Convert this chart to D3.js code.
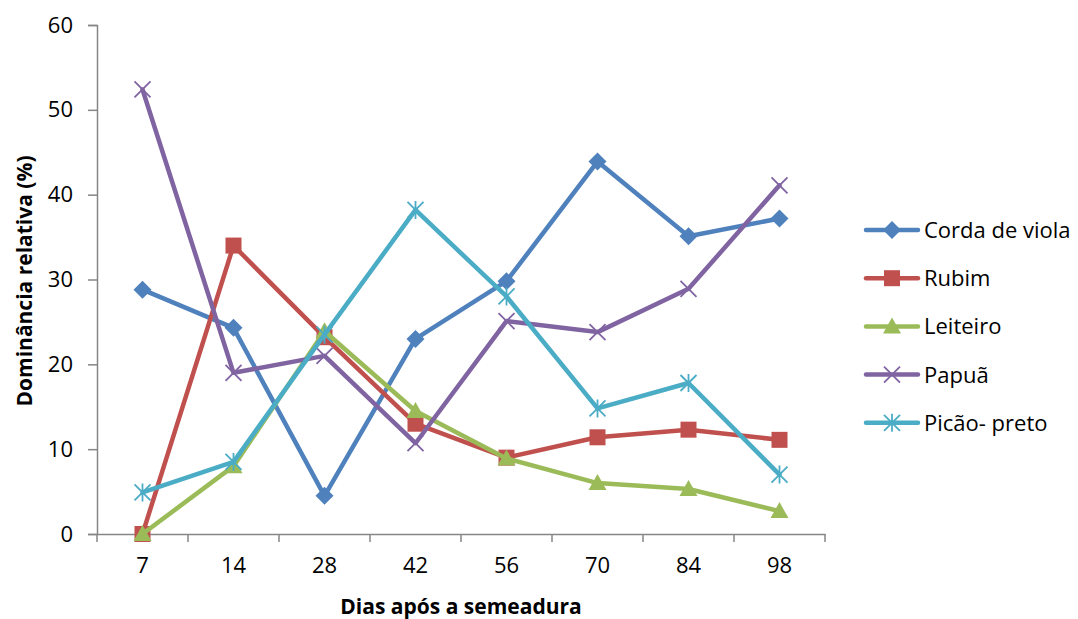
<!DOCTYPE html>
<html><head><meta charset="utf-8">
<script src="https://cdn.jsdelivr.net/npm/d3@7/dist/d3.min.js"></script>
<style>body{margin:0;background:#fff}svg{display:block}text{font-family:"Open Sans","Liberation Sans",sans-serif}</style>
</head><body><svg id="c" width="1078" height="619"></svg>
<script>
const categories = ["7","14","28","42","56","70","84","98"];
const seriesNames = ["Corda de viola","Rubim","Leiteiro","Papuã","Picão- preto"];
const cordaDeViola = [28.8,24.3,4.5,23.0,29.8,43.9,35.1,37.2];
const rubim = [0,34.0,23.2,13.0,9.0,11.4,12.3,11.1];
const leiteiro = [0,8.0,23.9,14.5,8.9,6.0,5.3,2.7];
const papua = [52.4,19.0,21.0,10.7,25.1,23.8,28.9,41.1];
const picaoPreto = [4.9,8.5,23.5,38.2,28.0,14.8,17.8,7.0];
const yTicks = [0,10,20,30,40,50,60];
const colors = ["#4F81BD","#C0504D","#9BBB59","#8064A2","#4BACC6"];
const markers = ["diamond","square","triangle","x","star"];
const values = [cordaDeViola, rubim, leiteiro, papua, picaoPreto];

const svg = d3.select("#c");
const x = d3.scaleBand().domain(categories).range([97,825]);
const y = d3.scaleLinear().domain([0,60]).range([534,25]);
const axisColor = "#868686";
const fs = 22;

// y axis
const ya = svg.append("g").attr("transform","translate(97,0)")
  .call(d3.axisLeft(y).tickValues(yTicks).tickSize(9).tickPadding(15));
ya.select(".domain").attr("stroke",axisColor).attr("stroke-width",1.5);
ya.selectAll(".tick line").attr("stroke",axisColor).attr("stroke-width",1.5);
ya.selectAll(".tick text").attr("font-size",fs).attr("fill","#000");

// x axis
const xa = svg.append("g").attr("transform","translate(0,534)")
  .call(d3.axisBottom(x).tickSize(0).tickPadding(23));
xa.select(".domain").attr("stroke",axisColor).attr("stroke-width",1.5);
xa.selectAll(".tick text").attr("font-size",fs).attr("fill","#000");
const bounds = categories.map(c=>x(c)).concat([x.range()[1]]);
svg.append("g").selectAll("line").data(bounds).join("line")
  .attr("x1",d=>d).attr("x2",d=>d).attr("y1",534).attr("y2",542)
  .attr("stroke",axisColor).attr("stroke-width",1.5);

// axis titles
svg.append("text").attr("x",461).attr("y",614).attr("text-anchor","middle")
  .attr("font-size",21).attr("font-weight","bold").text("Dias após a semeadura");
svg.append("text").attr("transform","translate(32,281) rotate(-90)").attr("text-anchor","middle")
  .attr("font-size",21).attr("font-weight","bold").text("Dominância relativa (%)");

function drawMarker(g, type, color, cx, cy){
  if(type==="diamond"){
    g.append("path").attr("d",`M${cx},${cy-9}L${cx+9},${cy}L${cx},${cy+9}L${cx-9},${cy}Z`).attr("fill",color);
  } else if(type==="square"){
    g.append("rect").attr("x",cx-8).attr("y",cy-8).attr("width",16).attr("height",16).attr("fill",color);
  } else if(type==="triangle"){
    g.append("path").attr("d",`M${cx},${cy-9}L${cx+9},${cy+7}L${cx-9},${cy+7}Z`).attr("fill",color);
  } else if(type==="x"){
    g.append("path").attr("d",`M${cx-8},${cy-8}L${cx+8},${cy+8}M${cx-8},${cy+8}L${cx+8},${cy-8}`).attr("stroke",color).attr("stroke-width",1.8);
  } else if(type==="star"){
    g.append("path").attr("d",`M${cx-8},${cy-8}L${cx+8},${cy+8}M${cx-8},${cy+8}L${cx+8},${cy-8}M${cx},${cy-9}L${cx},${cy+9}`).attr("stroke",color).attr("stroke-width",1.8);
  }
}

const line = d3.line().x((d,i)=>x(categories[i])+x.bandwidth()/2).y(d=>y(d));
values.forEach((vals,si)=>{
  const g = svg.append("g");
  g.append("path").attr("d",line(vals)).attr("fill","none").attr("stroke",colors[si])
    .attr("stroke-width",4.5).attr("stroke-linejoin","round").attr("stroke-linecap","round");
  vals.forEach((v,i)=>drawMarker(g, markers[si], colors[si], x(categories[i])+x.bandwidth()/2, y(v)));
});

// legend
const lg = svg.append("g");
seriesNames.forEach((n,i)=>{
  const ly = 230 + i*48.2;
  lg.append("line").attr("x1",866).attr("x2",918).attr("y1",ly).attr("y2",ly)
    .attr("stroke",colors[i]).attr("stroke-width",4.5).attr("stroke-linecap","round");
  drawMarker(lg, markers[i], colors[i], 892, ly);
  lg.append("text").attr("x",924).attr("y",ly+8).attr("font-size",fs).attr("fill","#000").text(n);
});
</script></body></html>
